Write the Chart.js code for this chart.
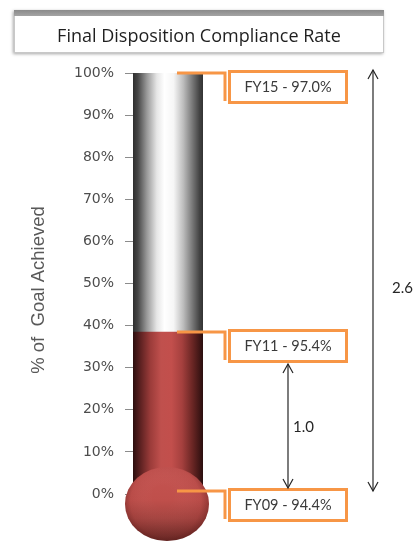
<!DOCTYPE html>
<html>
<head>
<meta charset="utf-8">
<script src="https://cdn.jsdelivr.net/npm/chart.js@4/dist/chart.umd.min.js"></script>
<style>
  html, body { margin: 0; padding: 0; background: #ffffff; }
  #wrap { width: 417px; height: 542px; position: relative; }
</style>
</head>
<body>
<div id="wrap"><canvas id="thermo" width="417" height="542"></canvas></div>
<script>
// Compliance rates per fiscal year (baseline, current, goal)
const fiscalYears = ['FY09', 'FY11', 'FY15'];
const complianceRates = [94.4, 95.4, 97.0];
const tickValues = [0, 10, 20, 30, 40, 50, 60, 70, 80, 90, 100];
const chartTitle = 'Final Disposition Compliance Rate';
const axisTitle = '% of  Goal Achieved';

const baseline = complianceRates[0];
const current = complianceRates[1];
const goal = complianceRates[2];
// share of the baseline-to-goal gap closed so far
const goalAchieved = (current - baseline) / (goal - baseline) * 100;

const ORANGE = '#f79646';

function tubeGradient(context, stops) {
  const { ctx, chartArea } = context.chart;
  if (!chartArea) return '#cccccc';
  const g = ctx.createLinearGradient(chartArea.left, 0, chartArea.right, 0);
  stops.forEach(([p, c]) => g.addColorStop(p, c));
  return g;
}

const glassStops = [
  [0, '#2e2e2e'], [0.07, '#474747'], [0.2, '#9a9a9a'], [0.34, '#e6e6e6'],
  [0.45, '#ffffff'], [0.58, '#f6f6f6'], [0.72, '#bcbcbc'], [0.85, '#777777'],
  [0.95, '#434343'], [1, '#333333']
];
const mercuryStops = [
  [0, '#2c0e0e'], [0.1, '#5a2020'], [0.25, '#9c3c3a'], [0.4, '#c0504d'],
  [0.55, '#c24f4c'], [0.7, '#a5403e'], [0.85, '#6a2624'], [1, '#2a0e0e']
];

function arrowHead(ctx, x, y, dir) {
  ctx.beginPath();
  ctx.moveTo(x - 5, y + dir * 9);
  ctx.lineTo(x, y);
  ctx.lineTo(x + 5, y + dir * 9);
  ctx.stroke();
}

function doubleArrow(ctx, x, yTop, yBottom) {
  ctx.save();
  ctx.strokeStyle = '#262626';
  ctx.lineWidth = 1.2;
  ctx.beginPath();
  ctx.moveTo(x, yTop);
  ctx.lineTo(x, yBottom);
  ctx.stroke();
  arrowHead(ctx, x, yTop, 1);
  arrowHead(ctx, x, yBottom, -1);
  ctx.restore();
}

const thermometerDecor = {
  id: 'thermometerDecor',
  beforeDraw(chart) {
    const ctx = chart.ctx;
    ctx.save();
    // title panel
    ctx.shadowColor = 'rgba(0,0,0,0.35)';
    ctx.shadowBlur = 3;
    ctx.shadowOffsetX = -1;
    ctx.shadowOffsetY = 1;
    ctx.fillStyle = '#ffffff';
    ctx.fillRect(14, 10, 370, 43);
    ctx.shadowColor = 'transparent';
    ctx.strokeStyle = '#c8c8c8';
    ctx.lineWidth = 1;
    ctx.strokeRect(14.5, 10.5, 369, 42);
    const bar = ctx.createLinearGradient(0, 10, 0, 17);
    bar.addColorStop(0, '#8a8a8a');
    bar.addColorStop(1, '#a8a8a8');
    ctx.fillStyle = bar;
    ctx.fillRect(14, 10, 370, 6);
    ctx.fillStyle = '#1f1f1f';
    ctx.font = '18px "Open Sans"';
    ctx.textAlign = 'center';
    ctx.textBaseline = 'middle';
    ctx.fillText(chartTitle, 199, 37);

    // axis title
    ctx.translate(39, 290);
    ctx.rotate(-Math.PI / 2);
    ctx.fillStyle = '#595959';
    ctx.font = '18.5px "Liberation Sans"';
    ctx.fillText(axisTitle, 0, 0);
    ctx.restore();
  },
  afterDatasetsDraw(chart) {
    const ctx = chart.ctx;
    const y = chart.scales.y;
    const meta = chart.getDatasetMeta(1);
    const cx = meta.data[0].x;
    const y0 = y.getPixelForValue(0);

    // bulb
    ctx.save();
    const bx = cx - 1, by = y0 + 10, rx = 42, ry = 37;
    const bg = ctx.createLinearGradient(0, by - ry, 0, by + ry);
    bg.addColorStop(0, '#c55451');
    bg.addColorStop(0.45, '#bf4f4b');
    bg.addColorStop(0.7, '#a4433f');
    bg.addColorStop(1, '#6a2825');
    ctx.beginPath();
    ctx.ellipse(bx, by, rx, ry, 0, 0, Math.PI * 2);
    ctx.fillStyle = bg;
    ctx.fill();
    const rg = ctx.createRadialGradient(bx - 4, by - 8, 10, bx, by, rx + 4);
    rg.addColorStop(0, 'rgba(255,255,255,0)');
    rg.addColorStop(0.7, 'rgba(60,10,10,0.05)');
    rg.addColorStop(1, 'rgba(60,10,10,0.45)');
    ctx.fillStyle = rg;
    ctx.fill();
    ctx.restore();

    // callouts
    const marks = [
      { label: fiscalYears[2] + ' - ' + goal.toFixed(1) + '%', v: 100 },
      { label: fiscalYears[1] + ' - ' + current.toFixed(1) + '%', v: goalAchieved },
      { label: fiscalYears[0] + ' - ' + baseline.toFixed(1) + '%', v: 0 }
    ];
    const boxes = [];
    ctx.save();
    ctx.strokeStyle = ORANGE;
    ctx.lineWidth = 3;
    ctx.font = '14.5px Lato';
    ctx.textAlign = 'center';
    ctx.textBaseline = 'middle';
    marks.forEach(m => {
      const py = Math.round(y.getPixelForValue(m.v)) - (m.v === 0 ? 3 : 0);
      ctx.beginPath();
      ctx.moveTo(cx + 9, py);
      ctx.lineTo(225, py);
      ctx.lineTo(225, py + 28);
      ctx.stroke();
      const top = py - 3, h = 31;
      ctx.fillStyle = '#ffffff';
      ctx.fillRect(229.5, top + 1.5, 117, h);
      ctx.strokeRect(229.5, top + 1.5, 117, h);
      ctx.fillStyle = '#3a3a3a';
      ctx.fillText(m.label, 288, top + h / 2 + 2);
      boxes.push({ top: top, bottom: top + h + 3 });
    });
    ctx.restore();

    // gap arrows
    doubleArrow(ctx, 288, boxes[1].bottom + 1, boxes[2].top);
    doubleArrow(ctx, 373, boxes[0].top, boxes[2].top + 3);
    ctx.save();
    ctx.fillStyle = '#262626';
    ctx.font = '15px Lato';
    ctx.textAlign = 'left';
    ctx.textBaseline = 'middle';
    ctx.fillText((current - baseline).toFixed(1), 293, 427);
    ctx.fillText((goal - baseline).toFixed(1), 392, 288);
    ctx.restore();
  }
};

new Chart(document.getElementById('thermo'), {
  type: 'bar',
  data: {
    labels: [''],
    datasets: [
      {
        label: 'Goal Achieved',
        data: [goalAchieved],
        backgroundColor: c => tubeGradient(c, mercuryStops),
        borderWidth: 0,
        barThickness: 70
      },
      {
        label: 'Scale',
        data: [tickValues[tickValues.length - 1]],
        backgroundColor: c => tubeGradient(c, glassStops),
        borderWidth: 0,
        barThickness: 70
      }
    ]
  },
  options: {
    responsive: false,
    animation: false,
    devicePixelRatio: 1,
    layout: { padding: { top: 73, bottom: 48, left: 0, right: 214 } },
    datasets: { bar: { grouped: false } },
    plugins: { legend: { display: false }, tooltip: { enabled: false } },
    scales: {
      x: { display: false },
      y: {
        min: tickValues[0],
        max: tickValues[tickValues.length - 1],
        afterFit(scale) { scale.width = 133; },
        afterBuildTicks(scale) { scale.ticks = tickValues.map(v => ({ value: v })); },
        border: { display: false },
        grid: { drawOnChartArea: false, tickLength: 8, color: '#8c8c8c', lineWidth: 1 },
        ticks: {
          padding: 11,
          color: '#4d4d4d',
          font: { family: 'DejaVu Sans', size: 14 },
          callback: v => v + '%'
        }
      }
    }
  },
  plugins: [thermometerDecor]
});
</script>
</body>
</html>
